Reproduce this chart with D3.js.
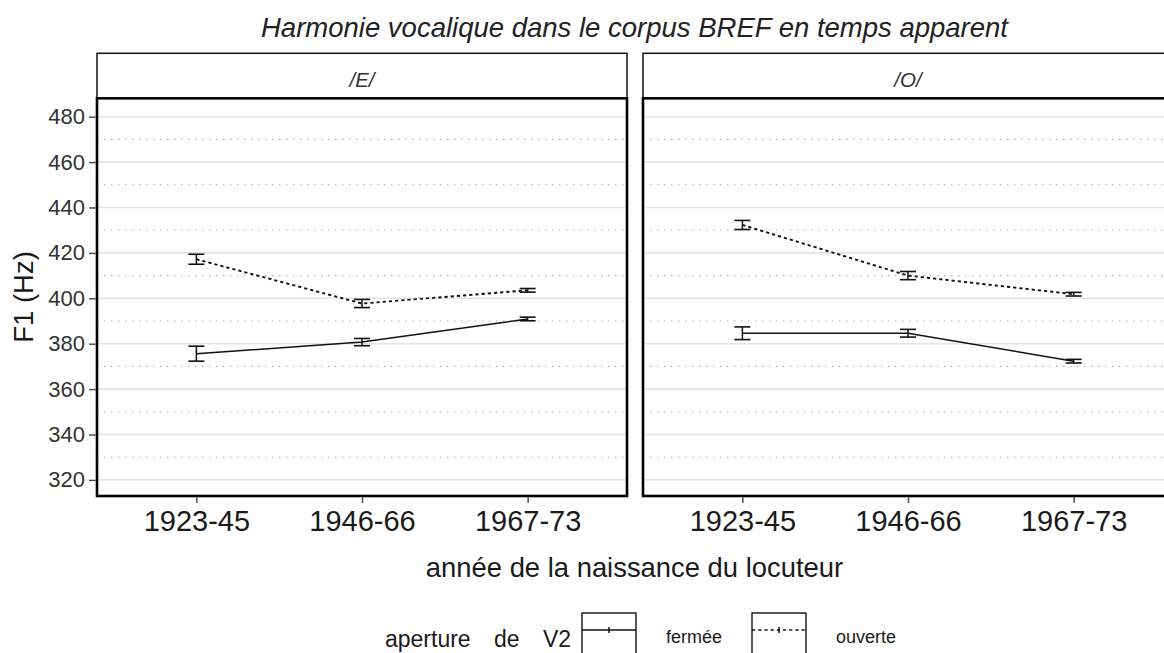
<!DOCTYPE html>
<html>
<head>
<meta charset="utf-8">
<script src="https://cdn.jsdelivr.net/npm/d3@7/dist/d3.min.js"></script>
<style>
  html, body { margin: 0; padding: 0; background: #fff; }
  svg { display: block; font-family: Arial, "Liberation Sans", sans-serif; }
</style>
</head>
<body>
<svg id="chart" width="1164" height="653"></svg>
<script>
// ---- data ----
const categories = ["1923-45", "1946-66", "1967-73"];
const facets = ["/E/", "/O/"];
const apertures = ["fermée", "ouverte"];
const yTicks = [320, 340, 360, 380, 400, 420, 440, 460, 480];
const yMinor = [330, 350, 370, 390, 410, 430, 450, 470];

const E_fermee = [375.6, 380.7, 390.9];
const E_fermee_err = [3.3, 1.6, 0.8];
const E_ouverte = [417.2, 397.7, 403.5];
const E_ouverte_err = [2.2, 1.8, 0.8];
const O_fermee = [384.6, 384.6, 372.3];
const O_fermee_err = [2.8, 1.7, 0.8];
const O_ouverte = [432.3, 410.0, 401.8];
const O_ouverte_err = [2.0, 1.8, 0.8];

const seriesByFacet = {
  "/E/": { "fermée": [E_fermee, E_fermee_err], "ouverte": [E_ouverte, E_ouverte_err] },
  "/O/": { "fermée": [O_fermee, O_fermee_err], "ouverte": [O_ouverte, O_ouverte_err] }
};

// ---- layout ----
const svg = d3.select("#chart");
const panelTop = 98.3, panelBottom = 496, stripTop = 53.3;
const panelW = 530;
const panelX = [97, 643];
const dashFor = { "fermée": null, "ouverte": "3.2,3" };

const y = d3.scaleLinear().domain([312.9, 488.1]).range([panelBottom, panelTop]);

// title
svg.append("text")
  .attr("x", 634.5).attr("y", 36.5)
  .attr("text-anchor", "middle")
  .attr("font-size", 27.5).attr("font-style", "italic").attr("fill", "#222")
  .text("Harmonie vocalique dans le corpus BREF en temps apparent");

facets.forEach((f, i) => {
  const x0 = panelX[i];
  const x = d3.scalePoint().domain(categories).range([x0, x0 + panelW]).padding(0.6);
  const g = svg.append("g");

  // strip
  g.append("rect").attr("x", x0).attr("y", stripTop).attr("width", panelW).attr("height", panelTop - stripTop)
    .attr("fill", "#fff").attr("stroke", "#111").attr("stroke-width", 1.5);
  g.append("text").attr("x", x0 + panelW / 2).attr("y", 86.5)
    .attr("text-anchor", "middle").attr("font-size", 20.5).attr("font-style", "italic").attr("fill", "#333")
    .text(f);

  // grid
  g.selectAll(".gmaj").data(yTicks).enter().append("line")
    .attr("x1", x0).attr("x2", x0 + panelW)
    .attr("y1", d => y(d)).attr("y2", d => y(d))
    .attr("stroke", "#e3e3e3").attr("stroke-width", 1.6);
  g.selectAll(".gmin").data(yMinor).enter().append("line")
    .attr("x1", x0).attr("x2", x0 + panelW)
    .attr("y1", d => y(d)).attr("y2", d => y(d))
    .attr("stroke", "#a8a8a8").attr("stroke-width", 1.1).attr("stroke-dasharray", "1.4,5.6");

  // series
  apertures.forEach(a => {
    const [vals, errs] = seriesByFacet[f][a];
    const pts = categories.map((c, k) => ({ c, v: vals[k], e: errs[k] }));
    const line = d3.line().x(d => x(d.c)).y(d => y(d.v));
    g.append("path").datum(pts).attr("d", line)
      .attr("fill", "none").attr("stroke", "#111").attr("stroke-width", a === "fermée" ? 1.5 : 1.9)
      .attr("stroke-dasharray", dashFor[a]);
    const eb = g.selectAll(null).data(pts).enter().append("g");
    eb.append("line").attr("x1", d => x(d.c)).attr("x2", d => x(d.c))
      .attr("y1", d => y(d.v - d.e)).attr("y2", d => y(d.v + d.e))
      .attr("stroke", "#111").attr("stroke-width", 1.5);
    eb.append("line").attr("x1", d => x(d.c) - 8).attr("x2", d => x(d.c) + 8)
      .attr("y1", d => y(d.v - d.e)).attr("y2", d => y(d.v - d.e))
      .attr("stroke", "#111").attr("stroke-width", 1.6);
    eb.append("line").attr("x1", d => x(d.c) - 8).attr("x2", d => x(d.c) + 8)
      .attr("y1", d => y(d.v + d.e)).attr("y2", d => y(d.v + d.e))
      .attr("stroke", "#111").attr("stroke-width", 1.6);
  });

  // panel border
  g.append("rect").attr("x", x0).attr("y", panelTop).attr("width", panelW).attr("height", panelBottom - panelTop)
    .attr("fill", "none").attr("stroke", "#000").attr("stroke-width", 2.6);

  // x axis
  const xa = g.append("g").attr("transform", `translate(0,${panelBottom})`)
    .call(d3.axisBottom(x).tickSize(7).tickSizeOuter(0).tickPadding(7));
  xa.select(".domain").remove();
  xa.selectAll(".tick line").attr("stroke", "#444").attr("stroke-width", 1.4).attr("y1", 1.3);
  xa.selectAll(".tick text").attr("font-size", 29).attr("fill", "#1a1a1a")
    .attr("font-family", "Arial, 'Liberation Sans', sans-serif").attr("dy", "0.71em");

  if (i === 0) {
    const ya = g.append("g").attr("transform", `translate(${x0},0)`)
      .call(d3.axisLeft(y).tickValues(yTicks).tickSize(8).tickSizeOuter(0).tickPadding(4));
    ya.select(".domain").remove();
    ya.selectAll(".tick line").attr("stroke", "#444").attr("stroke-width", 1.4).attr("x1", -1.3);
    ya.selectAll(".tick text").attr("font-size", 22).attr("fill", "#333")
      .attr("font-family", "Arial, 'Liberation Sans', sans-serif");
  }
});

// axis titles
svg.append("text").attr("x", 634.5).attr("y", 576.5).attr("text-anchor", "middle")
  .attr("font-size", 27.4).attr("fill", "#1a1a1a").text("année de la naissance du locuteur");
svg.append("text").attr("transform", "translate(33,297) rotate(-90)").attr("text-anchor", "middle")
  .attr("font-size", 27.5).attr("fill", "#1a1a1a").text("F1 (Hz)");

// legend
const leg = svg.append("g");
leg.append("text").attr("x", 385).attr("y", 646.5).attr("font-size", 23).attr("fill", "#1a1a1a")
  .style("word-spacing", "17px").text("aperture de V2");
const keyX = [582, 752], keyW = 54, keyTop = 613, keyH = 44, lblW = 30, keyLineY = 630;
apertures.forEach((a, i) => {
  const kx = keyX[i];
  leg.append("rect").attr("x", kx).attr("y", keyTop).attr("width", keyW).attr("height", keyH)
    .attr("fill", "#fff").attr("stroke", "#111").attr("stroke-width", 1.4);
  leg.append("line").attr("x1", kx).attr("x2", kx + keyW).attr("y1", keyLineY).attr("y2", keyLineY)
    .attr("stroke", "#111").attr("stroke-width", 1.5).attr("stroke-dasharray", dashFor[a]);
  leg.append("line").attr("x1", kx + keyW / 2).attr("x2", kx + keyW / 2).attr("y1", keyLineY - 3).attr("y2", keyLineY + 3)
    .attr("stroke", "#111").attr("stroke-width", 1.5);
  leg.append("text").attr("x", kx + keyW + lblW).attr("y", 643).attr("font-size", 18).attr("fill", "#1a1a1a")
    .text(a);
});
</script>
</body>
</html>
